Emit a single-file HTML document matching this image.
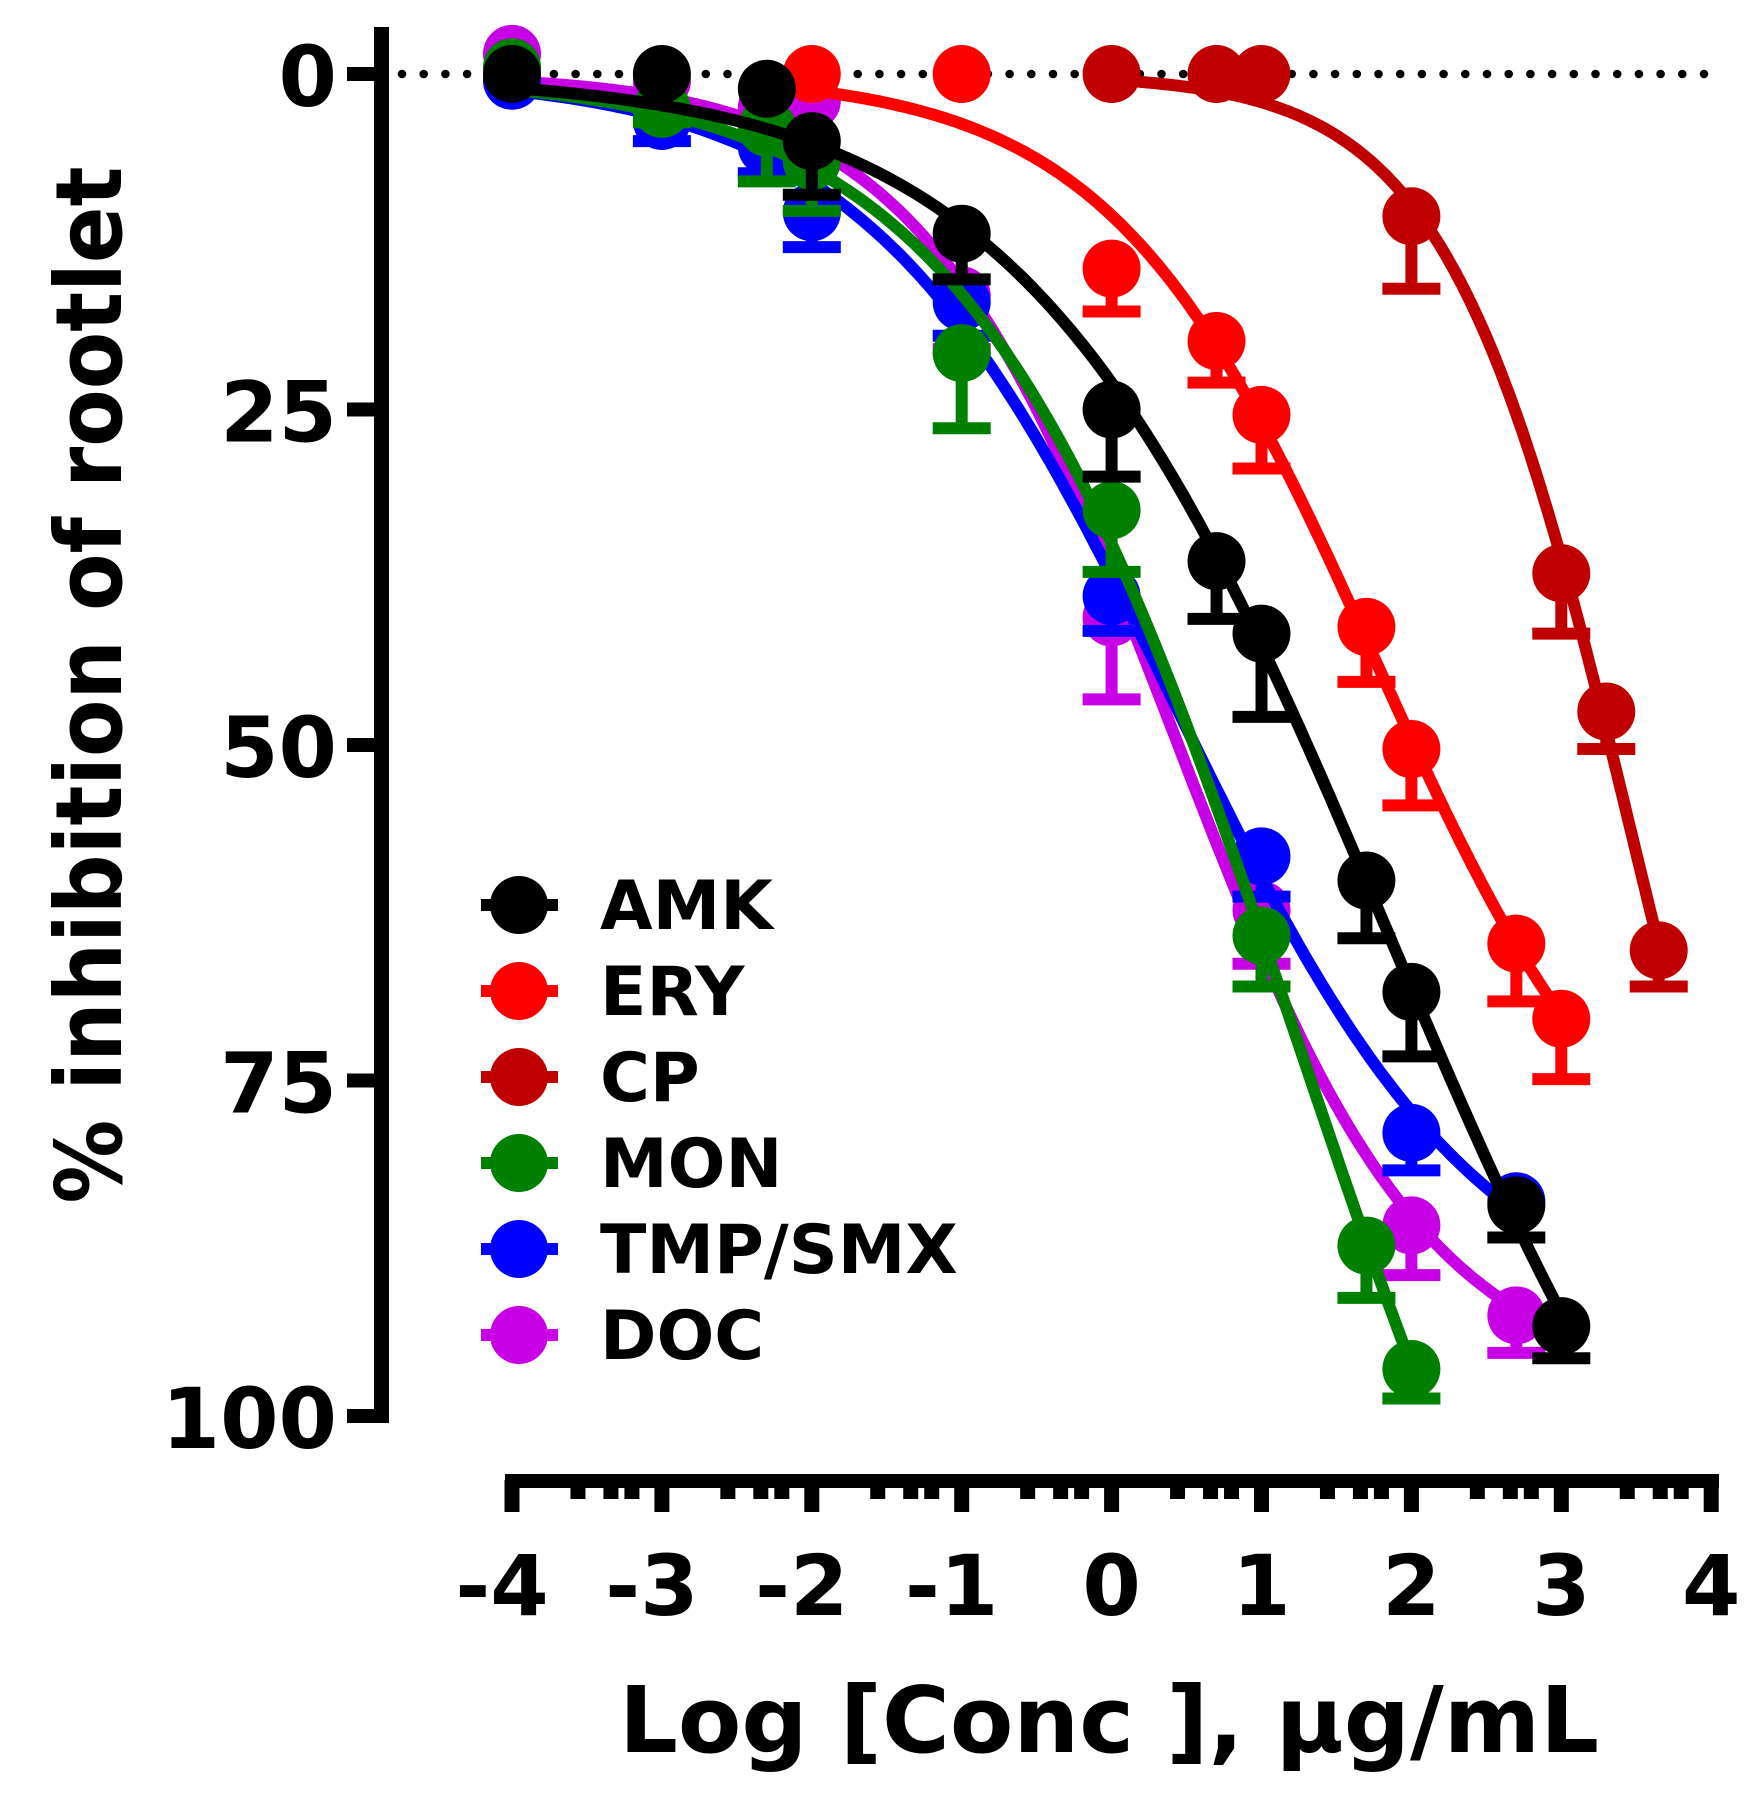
<!DOCTYPE html>
<html><head><meta charset="utf-8"><style>
html,body{margin:0;padding:0;background:#fff;}
svg{display:block;font-family:"DejaVu Sans","Liberation Sans",sans-serif;font-weight:bold;}
</style></head><body>
<svg id="chart" width="1763" height="1803" viewBox="0 0 1763 1803" xmlns="http://www.w3.org/2000/svg">
<g id="axes"></g>
<g id="series"></g>
<g id="legend"></g>
<text x="1109" y="1752" font-size="92" text-anchor="middle" textLength="980" lengthAdjust="spacingAndGlyphs">Log [Conc ], µg/mL</text>
<text transform="translate(121,685) rotate(-90)" font-size="92" text-anchor="middle" textLength="1037" lengthAdjust="spacingAndGlyphs">% inhibition of rootlet</text>
</svg>
<script>
const xTicks = [-4,-3,-2,-1,0,1,2,3,4];
const yTicks = [0,25,50,75,100];
const seriesNames = ["DOC","TMP/SMX","MON","CP","ERY","AMK"];
const seriesColors = ["#c800e6","#0000ff","#008000","#c00000","#ff0000","#000000"];
const docX = [-4,-3,-2.3,-2,-1,0,1,2,2.7];
const docY = [-1.5,0.5,2.5,2,16.5,40.5,62.3,85.8,92.5];
const docE = [0,0,0,0,4,6.1,4,3.7,2.8];
const tmpX = [-4,-3,-2.3,-2,-1,0,1,2,2.7];
const tmpY = [0.5,3.5,5.4,10.3,17,38.9,58.3,78.9,84];
const tmpE = [0,1.5,2,2.6,2.5,2.6,3,2.8,0];
const monX = [-4,-3,-2.3,-2,-1,0,1,1.7,2];
const monY = [-0.5,2.6,4,6.5,20.8,32.5,64.2,87.3,96.5];
const monE = [0,1,4,3.7,5.6,4.6,3.8,3.9,2.2];
const cpX = [0,0.7,1,2,3,3.3,3.65];
const cpY = [0,0,0,10.6,37.2,47.5,65.3];
const cpE = [0,0,0,5.4,4.5,2.8,2.7];
const eryX = [-2,-1,0,0.7,1,1.7,2,2.7,3];
const eryY = [0,0,14.5,19.9,25.4,41.2,50.3,64.8,70.4];
const eryE = [0,0,3.2,3.1,4,4.1,4.2,4.3,4.5];
const amkX = [-4,-3,-2.3,-2,-1,0,0.7,1,1.7,2,2.7,3];
const amkY = [0,0,1.1,5,11.9,25,36.3,41.7,60.1,68.4,84.3,93.3];
const amkE = [0,0,0,4,3.4,5,4.3,6.2,4.3,4.8,2.4,2.4];
const legendOrder = ["AMK","ERY","CP","MON","TMP/SMX","DOC"];

const NS="http://www.w3.org/2000/svg";
const X=v=>512+(v+4)*149.9;
const Y=v=>74+v*13.42;
function mk(tag,attrs,parent){const e=document.createElementNS(NS,tag);for(const k in attrs)e.setAttribute(k,attrs[k]);parent.appendChild(e);return e;}
const axes=document.getElementById('axes');
const ser=document.getElementById('series');
const leg=document.getElementById('legend');

for(let x=402;x<=1722;x+=21.7){
  const d=mk('circle',{cx:x,cy:Y(0),r:4.3,fill:'#000'},axes);
  
  
}
let yl=mk('rect',{x:374,y:27,width:15,height:Y(100)+7-27,fill:'#000'},axes);


yTicks.forEach(v=>{
  const t=mk('rect',{x:347,y:Y(v)-7,width:30,height:14,fill:'#000'},axes);
  
  
  const l=mk('text',{x:337,y:Y(v)+32,'font-size':84,'text-anchor':'end'},axes);
  l.textContent=String(v);
  
  
});
let xl=mk('rect',{x:505,y:1474,width:1719-505,height:14,fill:'#000'},axes);


xTicks.forEach((v,i)=>{
  const t=mk('rect',{x:X(v)-7.5,y:1480,width:15,height:32,fill:'#000'},axes);
  
  
  const l=mk('text',{x:X(v)-(v<0?10:0),y:1615,'font-size':84,'text-anchor':'middle'},axes);
  l.textContent=String(v);
  
  
  if(i<xTicks.length-1){
    [0.44,0.66,0.80].forEach(f=>{
      const m=mk('rect',{x:X(v+f)-7.5,y:1480,width:15,height:19,fill:'#000'},axes);
      
      
    });
  }
});

// 4-parameter logistic fit (bottom fixed 0), coarse-to-fine grid search
function model(p,x){return p[0]/(1+Math.pow(10,(p[1]-x)*p[2]));}
function sse(p,xs,ys){let s=0;for(let i=0;i<xs.length;i++){const r=model(p,xs[i])-ys[i];s+=r*r;}return s;}
function fit(xs,ys){
  let best=null,bs=Infinity;
  for(let t=80;t<=200;t+=5)for(let c=-3;c<=6;c+=0.1)for(let h=0.1;h<=2.5;h+=0.05){
    const p=[t,c,h];const s=sse(p,xs,ys);if(s<bs){bs=s;best=p;}
  }
  let st=[2.5,0.05,0.025];
  for(let it=0;it<40;it++){
    let imp=false;
    for(let k=0;k<3;k++)for(const sg of[-1,1]){
      const p=best.slice();p[k]+=sg*st[k];if(p[2]<=0.01)continue;
      const s=sse(p,xs,ys);if(s<bs){bs=s;best=p;imp=true;}
    }
    if(!imp)st=st.map(v=>v/2);
  }
  return best;
}
function curvePath(xs,p){
  const x0=xs[0],x1=xs[xs.length-1];let d='';
  for(let i=0;i<=200;i++){const x=x0+(x1-x0)*i/200;d+=(i?'L':'M')+X(x).toFixed(1)+','+Y(model(p,x)).toFixed(1);}
  return d;
}
const data=[[docX,docY,docE],[tmpX,tmpY,tmpE],[monX,monY,monE],[cpX,cpY,cpE],[eryX,eryY,eryE],[amkX,amkY,amkE]];
data.forEach((s,k)=>{
  const [xs,ys,es]=s;const c=seriesColors[k];
  const g=mk('g',{},ser);
  
  
  xs.forEach((x,i)=>{
    if(es[i]>0){
      const st=mk('line',{x1:X(x),y1:Y(ys[i]),x2:X(x),y2:Y(ys[i]+es[i]),stroke:c,'stroke-width':12},g);
      
      
      const cp=mk('line',{x1:X(x)-29,y1:Y(ys[i]+es[i]),x2:X(x)+29,y2:Y(ys[i]+es[i]),stroke:c,'stroke-width':12},g);
      
      
    }
  });
  const p=fit(xs,ys);
  const path=mk('path',{d:curvePath(xs,p),fill:'none',stroke:c,'stroke-width':12,'stroke-linejoin':'round'},g);
  
  
  xs.forEach((x,i)=>{
    const pt=mk('circle',{cx:X(x),cy:Y(ys[i]),r:29,fill:c},g);
    
    
  });
});
legendOrder.forEach((name,i)=>{
  const k=seriesNames.indexOf(name);const c=seriesColors[k];const y=905+i*86;
  const g=mk('g',{},leg);
  
  
  const ln=mk('line',{x1:481,y1:y,x2:558,y2:y,stroke:c,'stroke-width':12},g);
  
  
  const mc=mk('circle',{cx:519,cy:y,r:29,fill:c},g);
  
  
  const t=mk('text',{x:600,y:y+24,'font-size':68},g);
  t.textContent=name;
  
  
});
</script>
</body></html>
